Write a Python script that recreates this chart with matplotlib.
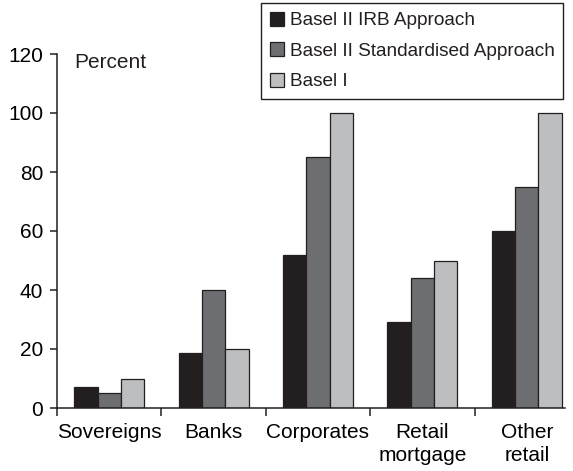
import numpy as np
import matplotlib
matplotlib.use("Agg")
import matplotlib.pyplot as plt
from matplotlib.ticker import FixedLocator

plt.rcParams['font.family'] = ['Liberation Sans', 'DejaVu Sans']

# data
categories = ["Sovereigns", "Banks", "Corporates", "Retail\nmortgage", "Other\nretail"]
series_names = ["Basel II IRB Approach", "Basel II Standardised Approach", "Basel I"]
irb = [7, 18.5, 52, 29, 60]
standardised = [5, 40, 85, 44, 75]
basel1 = [10, 20, 100, 50, 100]
yticks = [0, 20, 40, 60, 80, 100, 120]

colors = ["#231f20", "#6d6e71", "#bcbec0"]

fig = plt.figure(figsize=(5.73, 4.71), dpi=100)
W, H = 573, 471
left, right, top, bottom = 57, 565, 54, 408
ax = fig.add_axes([left / W, 1 - bottom / H, (right - left) / W, (bottom - top) / H])

x = np.arange(len(categories))
bw = 0.223
for i, (vals, name, c) in enumerate(zip([irb, standardised, basel1], series_names, colors)):
    ax.bar(x + (i - 1) * bw, vals, width=bw, color=c, edgecolor="#231f20",
           linewidth=0.9, label=name)

ax.set_ylim(0, 120)
ax.set_xlim(-0.5, 4.5 - 14 / 104.5)
ax.set_yticks(yticks)
ax.set_xticks(x)
ax.set_xticklabels(categories, linespacing=1.25)
ax.xaxis.set_minor_locator(FixedLocator(np.arange(-0.5, 4.0, 1.0)))
ax.tick_params(axis='x', which='major', length=0, pad=11, labelsize=15)
ax.tick_params(axis='x', which='minor', length=6, width=1.1, direction='out', color="#231f20")
ax.tick_params(axis='y', length=5, width=1.1, pad=5, labelsize=15, color="#231f20")

for s in ['top', 'right']:
    ax.spines[s].set_visible(False)
for s in ['left', 'bottom']:
    ax.spines[s].set_linewidth(1.1)
    ax.spines[s].set_color("#231f20")

ax.text(0.033, 0.977, "Percent", transform=ax.transAxes, fontsize=15,
        ha='left', va='center', color="#231f20")

leg = fig.legend(loc='upper right', bbox_to_anchor=(563 / W, 1 - 3 / H),
                 fontsize=13.7, frameon=True, fancybox=False, framealpha=1,
                 edgecolor="#231f20", handlelength=0.75, handleheight=0.75,
                 handletextpad=0.3, labelspacing=0.68, borderpad=0.45,
                 borderaxespad=0)
leg.get_frame().set_linewidth(1.0)
for t in leg.get_texts():
    t.set_color("#231f20")

fig.savefig("out.png", dpi=100)
